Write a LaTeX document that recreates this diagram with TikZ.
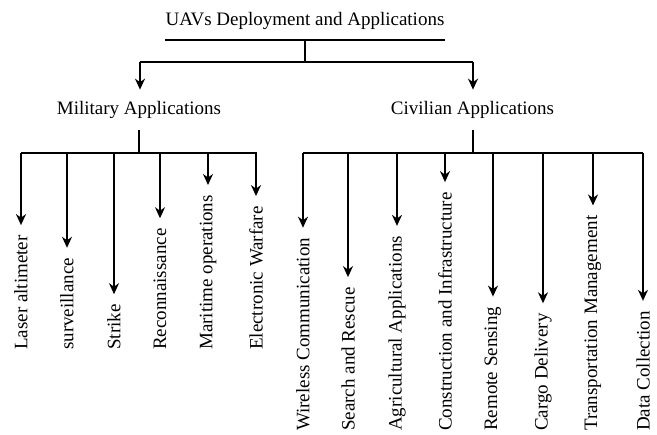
\documentclass[tikz,border=0pt]{standalone}
\usepackage{fontspec}
\setmainfont{Liberation Serif}
\usetikzlibrary{arrows.meta}
\begin{document}
\begin{tikzpicture}[x=1pt,y=-1pt,
  lbl/.style={font=\fontsize{19}{22}\selectfont, inner sep=0pt},
  leaf/.style={lbl, rotate=90, anchor=west},
  wire/.style={line width=1.8pt},
  stub/.style={line width=2.8pt},
  arr/.style={line width=1.6pt, -{Stealth[length=11pt,width=10pt,inset=3.5pt]}}]
\useasboundingbox (0,0) rectangle (657,435);
% root
\node[lbl, anchor=base] (root) at (305,26) {UAVs Deployment and Applications};
\draw[wire] (165,40) coordinate (ul) -- (445,40) coordinate (ur);
\coordinate (rj) at (305,40);
\coordinate (rb) at (305,62);
\draw[stub] (rj) -- (rb);
\coordinate (bl) at (140,62);
\coordinate (br) at (473,62);
\draw[wire] (bl) -- (br);
% level 1
\node[lbl, anchor=base] (mil) at (139,115) {Military Applications};
\node[lbl, anchor=base] (civ) at (472.5,115) {Civilian Applications};
\draw[arr, shorten >=12pt] (bl) -- (bl |- mil.north);
\draw[arr, shorten >=12pt] (br) -- (br |- civ.north);
% military bus
\coordinate (mt) at (139,130);
\coordinate (mb) at (139,153);
\draw[stub] (mt) -- (mb);
\draw[wire] (21,153) coordinate (ml) -- (257,153) coordinate (mr);
% civilian bus
\coordinate (ct) at (473,130);
\coordinate (cb) at (473,153);
\draw[stub] (ct) -- (cb);
\draw[wire] (303,153) coordinate (cl) -- (643,153) coordinate (cr);
% military leaves
\foreach \x/\t/\n in {21/Laser altimeter/m1, 67/surveillance/m2, 114/Strike/m3,
  160/Reconnaissance/m4, 208/Maritime operations/m5, 256/Electronic Warfare/m6}{
  \node[leaf] (\n) at (\x,350) {\t};
  \coordinate (\n s) at (\x,153);
  \draw[arr, shorten >=10pt] (\n s) -- (\n.east);
}
% civilian leaves
\foreach \x/\t/\n in {303/Wireless Communication/c1, 348/Search and Rescue/c2,
  397/Agricultural Applications/c3, 445/Construction and Infrastructure/c4,
  493/Remote Sensing/c5, 543/Cargo Delivery/c6, 593/Transportation Management/c7,
  643/Data Collection/c8}{
  \node[leaf] (\n) at (\x,431) {\t};
  \coordinate (\n s) at (\x,153);
  \draw[arr, shorten >=10pt] (\n s) -- (\n.east);
}
\end{tikzpicture}
\end{document}
